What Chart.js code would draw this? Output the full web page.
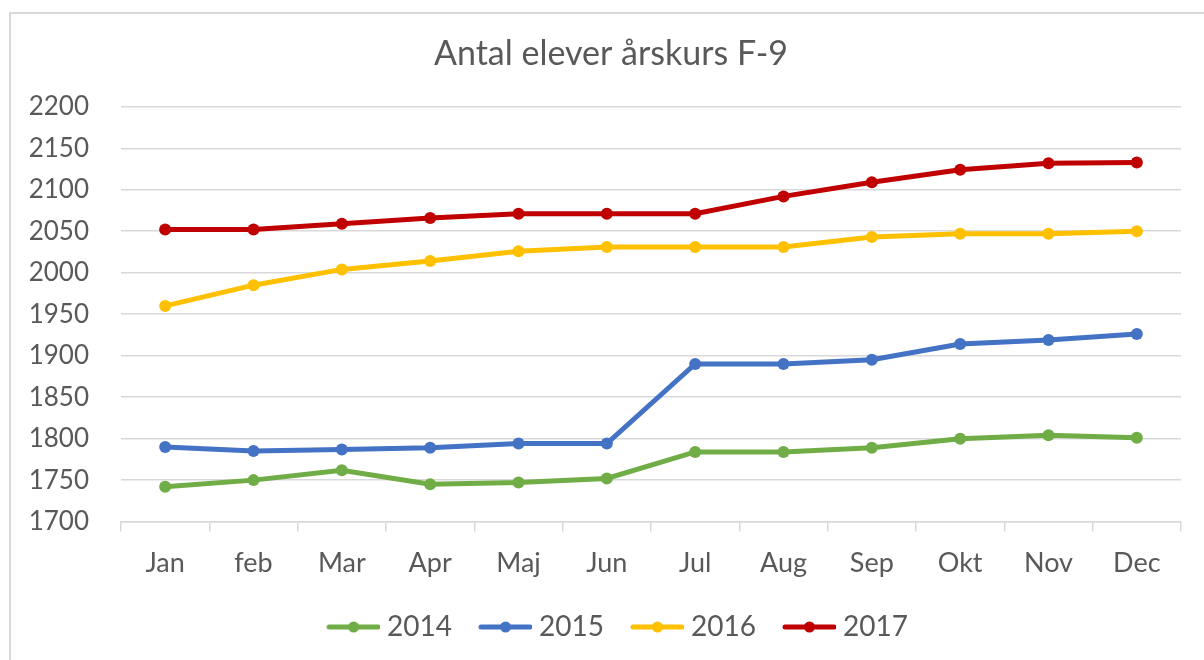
<!DOCTYPE html>
<html>
<head>
<meta charset="utf-8">
<script src="https://cdn.jsdelivr.net/npm/chart.js@4/dist/chart.umd.min.js"></script>
<style>
  html, body { margin: 0; padding: 0; background: #fff; overflow: hidden; }
  #frame { position: absolute; left: 9px; top: 12px; width: 1300px; height: 800px;
           border: 2px solid #d9d9d9; box-sizing: border-box; }
  #wrap { position: absolute; left: 0; top: 0; width: 1204px; height: 660px; }
</style>
</head>
<body>
<div id="frame"></div>
<div id="wrap"><canvas id="chart"></canvas></div>
<script>
// Månader och elevantal per år
const months = ['Jan', 'feb', 'Mar', 'Apr', 'Maj', 'Jun', 'Jul', 'Aug', 'Sep', 'Okt', 'Nov', 'Dec'];
const years = ['2014', '2015', '2016', '2017'];
const values2014 = [1742, 1750, 1762, 1745, 1747, 1752, 1784, 1784, 1789, 1800, 1804, 1801];
const values2015 = [1790, 1785, 1787, 1789, 1794, 1794, 1890, 1890, 1895, 1914, 1919, 1926];
const values2016 = [1960, 1985, 2004, 2014, 2026, 2031, 2031, 2031, 2043, 2047, 2047, 2050];
const values2017 = [2052, 2052, 2059, 2066, 2071, 2071, 2071, 2092, 2109, 2124, 2132, 2133];
const yMin = 1700, yMax = 2200, yStep = 50;

const colors = ['#70AD47', '#4472C4', '#FFC000', '#C00000'];
const textColor = '#595959';
const fontFamily = 'Lato, "Open Sans", sans-serif';

function makeSet(label, data, color) {
    return {
        label: label,
        data: data,
        borderColor: color,
        backgroundColor: color,
        borderWidth: 5,
        pointRadius: 6,
        pointBackgroundColor: color,
        pointBorderColor: color,
        pointBorderWidth: 0,
        tension: 0
    };
}

// Legendsymbol: linje med punkt i mitten, som i Excel
function legendGlyph(color) {
    let c = document.createElement('canvas');
    c.width = 60;
    c.height = 14;
    let g = c.getContext('2d');
    g.strokeStyle = color;
    g.lineWidth = 5;
    g.lineCap = 'round';
    g.beginPath();
    g.moveTo(9, 7);
    g.lineTo(58, 7);
    g.stroke();
    g.fillStyle = color;
    g.beginPath();
    g.arc(33.5, 7, 5.5, 0, Math.PI * 2);
    g.fill();
    return c;
}
const glyphs = colors.map(legendGlyph);

// Excel centrerar titel och legend lite till höger om dukens mitt
const shiftBlocks = {
    id: 'shiftBlocks',
    afterLayout(chart) {
        if (chart.titleBlock) chart.titleBlock.left += 31;
        if (chart.legend) chart.legend.left += 44;
    }
};

const canvas = document.getElementById('chart');
canvas.width = 1204;
canvas.height = 660;

new Chart(canvas.getContext('2d'), {
    type: 'line',
    data: {
        labels: months,
        datasets: [
            makeSet(years[0], values2014, colors[0]),
            makeSet(years[1], values2015, colors[1]),
            makeSet(years[2], values2016, colors[2]),
            makeSet(years[3], values2017, colors[3])
        ]
    },
    options: {
        responsive: false,
        animation: false,
        layout: { padding: { left: 10, right: 23, top: 0, bottom: 9 } },
        scales: {
            x: {
                offset: true,
                afterFit(scale) { scale.height -= 8; },
                grid: {
                    offset: true,
                    drawOnChartArea: false,
                    drawTicks: true,
                    tickLength: 10,
                    color: '#d9d9d9',
                    lineWidth: 1.5
                },
                border: { color: '#d9d9d9', width: 1.5 },
                ticks: {
                    color: textColor,
                    font: { family: fontFamily, size: 27 },
                    padding: 15,
                    maxRotation: 0
                }
            },
            y: {
                min: yMin,
                max: yMax,
                afterFit(scale) { scale.width = 111; },
                grid: { color: '#d9d9d9', lineWidth: 1.5, drawTicks: false },
                border: { display: false },
                ticks: {
                    stepSize: yStep,
                    color: textColor,
                    font: { family: fontFamily, size: 26 },
                    padding: 32,
                    callback: value => String(value)
                }
            }
        },
        plugins: {
            title: {
                display: true,
                text: 'Antal elever årskurs F-9',
                color: textColor,
                font: { family: fontFamily, size: 34, weight: 'normal' },
                padding: { top: 34, bottom: 32 }
            },
            legend: {
                position: 'bottom',
                labels: {
                    color: textColor,
                    font: { family: fontFamily, size: 28 },
                    usePointStyle: true,
                    pointStyleWidth: 46,
                    padding: 27,
                    generateLabels(chart) {
                        const items = Chart.defaults.plugins.legend.labels.generateLabels(chart);
                        items.forEach((item, i) => { item.pointStyle = glyphs[i]; });
                        return items;
                    }
                }
            },
            tooltip: { enabled: false }
        }
    },
    plugins: [shiftBlocks]
});
</script>
</body>
</html>
